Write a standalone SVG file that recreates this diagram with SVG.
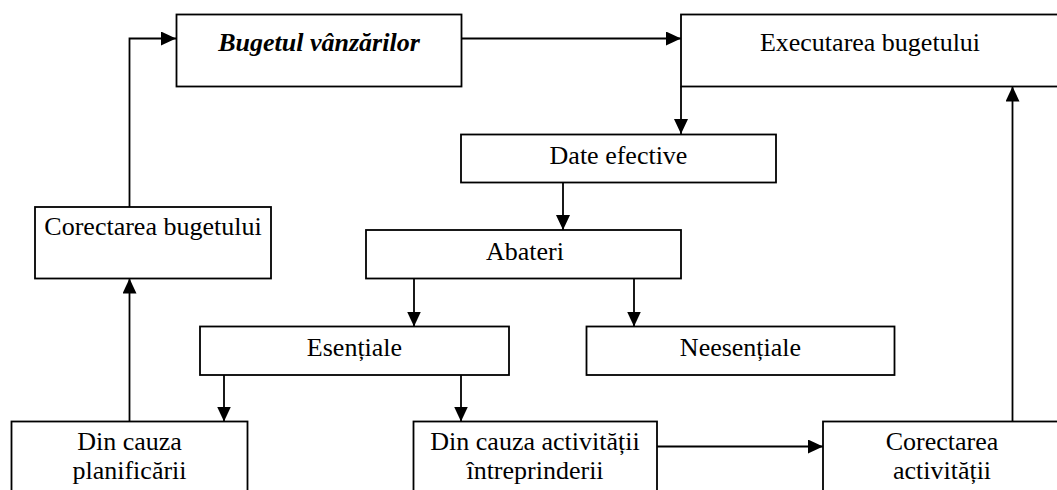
<svg xmlns="http://www.w3.org/2000/svg" width="1057" height="490" viewBox="0 0 1057 490">
<style>
.box{fill:#fff;stroke:#000;stroke-width:1.8}
.t{font-family:"Liberation Serif","Times New Roman",serif;font-size:26px;fill:#000;text-anchor:middle}
.bi{font-weight:bold;font-style:italic}
.c{fill:none;stroke:#000;stroke-width:1.8}
</style>
<defs>
<marker id="ah" markerUnits="userSpaceOnUse" markerWidth="15" markerHeight="14" refX="15" refY="7" orient="auto">
<path d="M0,0 L15,7 L0,14 z" fill="#000"/>
</marker>
</defs>
<rect width="1057" height="490" fill="#fff"/>
<g id="connectors">
<path class="c" d="M129.5,207 V38.5 H176" marker-end="url(#ah)"/>
<path class="c" d="M461.5,38.5 H681" marker-end="url(#ah)"/>
<path class="c" d="M681,86.5 V134" marker-end="url(#ah)"/>
<path class="c" d="M563,182.5 V230" marker-end="url(#ah)"/>
<path class="c" d="M414,278.5 V326.5" marker-end="url(#ah)"/>
<path class="c" d="M634,278.5 V326.5" marker-end="url(#ah)"/>
<path class="c" d="M224,375 V421.5" marker-end="url(#ah)"/>
<path class="c" d="M461,375 V421.5" marker-end="url(#ah)"/>
<path class="c" d="M129.5,421.5 V278.5" marker-end="url(#ah)"/>
<path class="c" d="M657,446.5 H823" marker-end="url(#ah)"/>
<path class="c" d="M1012.5,421.5 V86.5" marker-end="url(#ah)"/>
</g>
<g id="bugetul">
<rect class="box" x="176.5" y="14.5" width="285" height="72"/>
<text class="t bi" x="319" y="51">Bugetul vânzărilor</text>
</g>
<g id="executarea">
<rect class="box" x="681" y="14.5" width="380" height="72"/>
<text class="t" x="870" y="51">Executarea bugetului</text>
</g>
<g id="date">
<rect class="box" x="461" y="134.5" width="315" height="48"/>
<text class="t" x="618.5" y="164">Date efective</text>
</g>
<g id="corectarea-bugetului">
<rect class="box" x="35" y="207" width="236" height="71.5"/>
<text class="t" x="153" y="235">Corectarea bugetului</text>
</g>
<g id="abateri">
<rect class="box" x="366" y="230" width="315" height="48.5"/>
<text class="t" x="525" y="259.5">Abateri</text>
</g>
<g id="esentiale">
<rect class="box" x="200" y="326.5" width="309" height="48.5"/>
<text class="t" x="354.5" y="356">Esențiale</text>
</g>
<g id="neesentiale">
<rect class="box" x="586.5" y="326.5" width="308" height="48.5"/>
<text class="t" x="740.5" y="356">Neesențiale</text>
</g>
<g id="planificarii">
<rect class="box" x="11.5" y="421.5" width="236" height="80"/>
<text class="t" x="129.5" y="450">Din cauza</text>
<text class="t" x="129.5" y="479">planificării</text>
</g>
<g id="activitatii-intreprinderii">
<rect class="box" x="413.5" y="421.5" width="243.5" height="80"/>
<text class="t" x="535" y="450">Din cauza activității</text>
<text class="t" x="535" y="479">întreprinderii</text>
</g>
<g id="corectarea-activitatii">
<rect class="box" x="823" y="421.5" width="240" height="80"/>
<text class="t" x="942" y="450">Corectarea</text>
<text class="t" x="942" y="479">activității</text>
</g>
</svg>
